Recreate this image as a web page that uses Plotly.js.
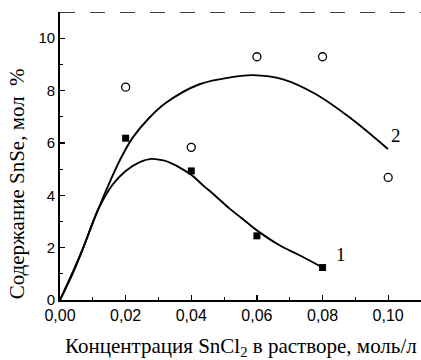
<!DOCTYPE html>
<html>
<head>
<meta charset="utf-8">
<script src="https://cdn.plot.ly/plotly-3.0.1.min.js"></script>
<style>html,body{margin:0;padding:0;background:#fff;}#chart{width:421px;height:360px;}</style>
</head>
<body>
<div id="chart"></div>
<script>
// Measured points
const conc = [0.02, 0.04, 0.06, 0.08, 0.10];
const series1Y = [6.18, 4.93, 2.45, 1.24];          // filled squares (curve 1)
const series2Y = [8.13, 5.83, 9.29, 9.29, 4.68];    // open circles (curve 2)

// Fitted curves
const curve1X = [0, 0.004, 0.007, 0.0115, 0.016, 0.02, 0.024, 0.0278, 0.0315, 0.034, 0.037, 0.04, 0.044, 0.0466, 0.0517, 0.0568, 0.06, 0.0669, 0.073, 0.08];
const curve1Y = [0, 1.1, 1.97, 3.42, 4.4, 4.93, 5.25, 5.39, 5.33, 5.22, 5.02, 4.78, 4.33, 4.06, 3.49, 2.98, 2.66, 2.09, 1.71, 1.24];
const curve2X = [0, 0.004, 0.007, 0.0115, 0.0155, 0.0187, 0.0222, 0.0273, 0.0324, 0.0425, 0.0527, 0.0588, 0.068, 0.078, 0.0883, 0.0999];
const curve2Y = [0, 1.05, 1.97, 3.42, 4.6, 5.45, 6.21, 6.97, 7.54, 8.24, 8.52, 8.59, 8.43, 7.86, 6.97, 5.77];

const xTicks = [0, 0.02, 0.04, 0.06, 0.08, 0.10];
const yTicks = [0, 2, 4, 6, 8, 10];
const xTitle = 'Концентрация SnCl<sub>2</sub> в растворе, моль/л';
const yTitle = 'Содержание SnSe, мол  %';
const curveLabels = ['1', '2'];
const labelX = [0.0855, 0.1025];
const labelY = [1.72, 6.3];

const serif = "'Liberation Serif', 'Times New Roman', Times, serif";
const sans = "'Liberation Sans', Arial, sans-serif";

const traces = [
  {x: curve1X, y: curve1Y, mode: 'lines', line: {color: '#000', width: 1.9, shape: 'spline', smoothing: 1}, hoverinfo: 'skip'},
  {x: curve2X, y: curve2Y, mode: 'lines', line: {color: '#000', width: 1.9, shape: 'spline', smoothing: 1}, hoverinfo: 'skip'},
  {x: conc.slice(0, series1Y.length), y: series1Y, mode: 'markers',
   marker: {symbol: 'square', size: 7, color: '#000'}},
  {x: conc, y: series2Y, mode: 'markers',
   marker: {symbol: 'circle-open', size: 8, color: '#000', line: {width: 1.3, color: '#000'}}}
];

const annotations = curveLabels.map((t, i) => ({
  x: labelX[i], y: labelY[i], xref: 'x', yref: 'y', text: t, showarrow: false,
  font: {family: serif, size: 19, color: '#000'}
}));
annotations.push({
  x: 0.5, y: -0.163, xref: 'paper', yref: 'paper', xanchor: 'center', yanchor: 'middle',
  text: xTitle, showarrow: false, font: {family: serif, size: 21, color: '#000'}
});
annotations.push({
  x: -0.118, y: 0.403, xref: 'paper', yref: 'paper', xanchor: 'center', yanchor: 'middle',
  text: yTitle, textangle: -90, showarrow: false, font: {family: serif, size: 21, color: '#000'}
});

const layout = {
  width: 421, height: 360,
  margin: {l: 60, r: 0, t: 12, b: 60},
  paper_bgcolor: '#fff', plot_bgcolor: '#fff',
  showlegend: false,
  separators: ', ',
  xaxis: {
    range: [0, 0.11], tickvals: xTicks, tickformat: '.2f',
    showgrid: false, zeroline: false, showline: true, linecolor: '#000', linewidth: 1.8,
    ticks: 'inside', ticklen: 5, tickwidth: 1.3, tickcolor: '#000',
    minor: {dtick: 0.01, ticks: 'inside', ticklen: 3, tickcolor: '#000', tickwidth: 1},
    tickfont: {family: sans, size: 16, color: '#000'}
  },
  yaxis: {
    range: [0, 11], tickvals: yTicks,
    showgrid: false, zeroline: false, showline: true, linecolor: '#000', linewidth: 1.8,
    ticks: 'inside', ticklen: 5, tickwidth: 1.3, tickcolor: '#000',
    minor: {dtick: 1, ticks: 'inside', ticklen: 3, tickcolor: '#000', tickwidth: 1},
    tickfont: {family: sans, size: 15, color: '#000'}
  },
  shapes: [
    {type: 'line', xref: 'x', yref: 'y', x0: 0, x1: 0.11, y0: 11, y1: 11,
     line: {color: '#000', width: 1.3, dash: 'longdash'}}
  ],
  annotations: annotations
};

Plotly.newPlot('chart', traces, layout, {displayModeBar: false, staticPlot: true});
</script>
</body>
</html>
